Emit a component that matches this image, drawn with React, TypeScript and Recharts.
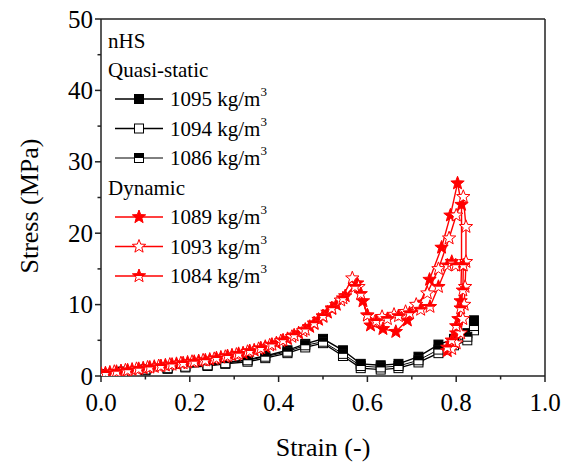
import React from 'react';
import { LineChart, Line, XAxis, YAxis, ReferenceLine } from 'recharts';

const FONT = "'Liberation Serif', 'DejaVu Serif', serif";

// quasi-static (black) curves
const qsStrain = [0.0, 0.05, 0.1, 0.15, 0.19, 0.24, 0.28, 0.33, 0.37, 0.42, 0.46, 0.5, 0.545, 0.585, 0.63, 0.67, 0.715, 0.76, 0.795, 0.825, 0.84];
const qs1095 = [0.2, 0.6, 0.9, 1.2, 1.4, 1.6, 1.9, 2.3, 2.8, 3.6, 4.5, 5.2, 3.6, 1.7, 1.5, 1.7, 2.7, 4.4, 5.2, 6.0, 7.8];
const qs1094 = [0.2, 0.5, 0.8, 1.0, 1.2, 1.4, 1.7, 2.0, 2.5, 3.2, 4.0, 4.6, 2.8, 1.1, 0.9, 1.1, 1.9, 3.2, 4.3, 5.0, 6.4];
const qs1086 = [0.2, 0.6, 0.9, 1.1, 1.3, 1.5, 1.8, 2.2, 2.7, 3.4, 4.3, 4.8, 3.1, 1.4, 1.2, 1.4, 2.2, 3.7, 4.7, 5.5, 7.0];

// dynamic (red) curves
const dyStrain1089 = [0, 0.02, 0.045, 0.07, 0.095, 0.12, 0.145, 0.17, 0.195, 0.22, 0.245, 0.27, 0.295, 0.32, 0.345, 0.37, 0.395, 0.42, 0.445, 0.47, 0.49, 0.51, 0.53, 0.55, 0.577, 0.59, 0.607, 0.635, 0.664, 0.69, 0.716, 0.74, 0.767, 0.787, 0.803, 0.812, 0.812, 0.81, 0.805, 0.8, 0.79, 0.78];
const dy1089 = [0.3, 0.5, 0.7, 0.9, 1.1, 1.3, 1.5, 1.7, 1.9, 2.1, 2.3, 2.6, 2.9, 3.2, 3.6, 4.1, 4.6, 5.2, 6.0, 6.9, 7.9, 8.9, 10.0, 11.2, 13.0, 10.5, 7.1, 6.6, 6.2, 7.8, 9.7, 13.5, 18.0, 22.5, 27.0, 24.0, 15.5, 10.5, 8.0, 6.0, 4.5, 3.5];
const dyStrain1093 = [0, 0.03, 0.055, 0.08, 0.105, 0.13, 0.155, 0.18, 0.205, 0.23, 0.255, 0.28, 0.305, 0.33, 0.355, 0.38, 0.405, 0.43, 0.455, 0.48, 0.5, 0.52, 0.54, 0.566, 0.58, 0.6, 0.617, 0.633, 0.66, 0.686, 0.71, 0.735, 0.76, 0.784, 0.8, 0.816, 0.822, 0.822, 0.82, 0.818, 0.815, 0.81, 0.8, 0.79];
const dy1093 = [0.3, 0.6, 0.8, 1.0, 1.2, 1.4, 1.6, 1.8, 2.0, 2.2, 2.4, 2.7, 3.0, 3.4, 3.8, 4.3, 4.9, 5.5, 6.3, 7.3, 8.3, 9.4, 10.6, 13.7, 12.5, 8.5, 7.6, 8.3, 8.6, 9.0, 10.0, 11.6, 15.0, 19.3, 22.5, 25.1, 20.9, 16.0, 12.5, 10.0, 8.0, 6.0, 4.6, 3.8];
const dyStrain1084 = [0, 0.01, 0.035, 0.06, 0.085, 0.11, 0.135, 0.16, 0.185, 0.21, 0.235, 0.26, 0.285, 0.31, 0.335, 0.36, 0.385, 0.41, 0.435, 0.46, 0.48, 0.5, 0.52, 0.545, 0.572, 0.585, 0.6, 0.62, 0.645, 0.67, 0.695, 0.72, 0.741, 0.76, 0.78, 0.79, 0.799, 0.816, 0.815, 0.81, 0.8, 0.79, 0.78];
const dy1084 = [0.3, 0.4, 0.6, 0.8, 1.0, 1.2, 1.4, 1.6, 1.8, 2.0, 2.2, 2.5, 2.8, 3.1, 3.5, 3.9, 4.4, 5.0, 5.7, 6.5, 7.4, 8.4, 9.5, 10.9, 12.5, 11.5, 8.5, 7.7, 8.0, 8.4, 8.8, 9.3, 9.7, 12.5, 15.5, 16.0, 15.5, 15.5, 12.0, 9.5, 7.0, 5.0, 4.0];

const xTicks = [0, 0.1, 0.2, 0.3, 0.4, 0.5, 0.6, 0.7, 0.8, 0.9, 1.0];
const yTicks = [0, 5, 10, 15, 20, 25, 30, 35, 40, 45, 50];

const toPts = (xs: number[], ys: number[]) => xs.map((x, i) => ({ x, y: ys[i] }));

type Kind = 'sqFilled' | 'sqOpen' | 'sqHalf' | 'starFilled' | 'starOpen' | 'starHalf';

const starPoints = (cx: number, cy: number, r: number) => {
  const pts: string[] = [];
  for (let i = 0; i < 10; i++) {
    const rad = i % 2 === 0 ? r : r * 0.42;
    const a = -Math.PI / 2 + (i * Math.PI) / 5;
    pts.push(`${cx + rad * Math.cos(a)},${cy + rad * Math.sin(a)}`);
  }
  return pts.join(' ');
};

const Marker = ({ kind, cx, cy }: { kind: Kind; cx: number; cy: number }) => {
  const s = 4.5;
  if (kind.startsWith('sq')) {
    return (
      <g>
        <rect x={cx - s} y={cy - s} width={2 * s} height={2 * s} fill={kind === 'sqFilled' ? '#000' : '#fff'} stroke="#000" strokeWidth={1} />
        {kind === 'sqHalf' && <rect x={cx - s} y={cy - s} width={2 * s} height={s} fill="#000" />}
      </g>
    );
  }
  const r = 7;
  const pts = starPoints(cx, cy, r);
  if (kind === 'starHalf') {
    return (
      <g>
        <defs>
          <clipPath id="topHalfClip" clipPathUnits="objectBoundingBox">
            <rect x={0} y={0} width={1} height={0.55} />
          </clipPath>
        </defs>
        <polygon points={pts} fill="#fff" stroke="#f00" strokeWidth={1} />
        <polygon points={pts} fill="#f00" clipPath="url(#topHalfClip)" />
      </g>
    );
  }
  return <polygon points={pts} fill={kind === 'starFilled' ? '#f00' : '#fff'} stroke="#f00" strokeWidth={1} />;
};

const makeDot = (kind: Kind) => (props: any) => {
  const { cx, cy, index } = props;
  if (cx == null || cy == null) return <g key={index} />;
  return <Marker key={index} kind={kind} cx={cx} cy={cy} />;
};

const XTick = (props: any) => {
  const { x, y, payload } = props;
  const major = Math.round(payload.value * 10) % 2 === 0;
  return (
    <g>
      <line x1={x} x2={x} y1={y} y2={y + (major ? 6 : 3.5)} stroke="#222" strokeWidth={1.5} />
      {major && (
        <text x={x} y={y + 35} textAnchor="middle" fontSize={25} style={{ fontFamily: FONT }} fill="#000">
          {payload.value.toFixed(1)}
        </text>
      )}
    </g>
  );
};

const YTick = (props: any) => {
  const { x, y, payload } = props;
  const major = payload.value % 10 === 0;
  return (
    <g>
      <line x1={x - (major ? 6 : 3.5)} x2={x} y1={y} y2={y} stroke="#222" strokeWidth={1.5} />
      {major && (
        <text x={x - 8} y={y + 8.5} textAnchor="end" fontSize={25} style={{ fontFamily: FONT }} fill="#000">
          {payload.value}
        </text>
      )}
    </g>
  );
};

const series = [
  { name: '1095', data: toPts(qsStrain, qs1095), color: '#000', kind: 'sqFilled' as Kind, width: 1.4 },
  { name: '1094', data: toPts(qsStrain, qs1094), color: '#000', kind: 'sqOpen' as Kind, width: 1.4 },
  { name: '1086', data: toPts(qsStrain, qs1086), color: '#000', kind: 'sqHalf' as Kind, width: 1 },
  { name: '1089', data: toPts(dyStrain1089, dy1089), color: '#f00', kind: 'starFilled' as Kind, width: 1.4 },
  { name: '1093', data: toPts(dyStrain1093, dy1093), color: '#f00', kind: 'starOpen' as Kind, width: 1.4 },
  { name: '1084', data: toPts(dyStrain1084, dy1084), color: '#f00', kind: 'starHalf' as Kind, width: 1.4 },
];

const legendRows: { text: string; y: number; s?: (typeof series)[number] }[] = [
  { text: 'nHS', y: 41 },
  { text: 'Quasi-static', y: 70 },
  { text: '1095 kg/m', y: 99, s: series[0] },
  { text: '1094 kg/m', y: 128.5, s: series[1] },
  { text: '1086 kg/m', y: 158, s: series[2] },
  { text: 'Dynamic', y: 187.5 },
  { text: '1089 kg/m', y: 217, s: series[3] },
  { text: '1093 kg/m', y: 246.5, s: series[4] },
  { text: '1084 kg/m', y: 276, s: series[5] },
];

export default function App() {
  return (
    <div style={{ position: 'absolute', left: 0, top: 0, width: 574, height: 466, background: '#fff' }}>
      <LineChart width={574} height={466} margin={{ top: 19, right: 29, bottom: 30, left: 0 }}>
        <XAxis
          dataKey="x"
          type="number"
          domain={[0, 1]}
          ticks={xTicks}
          allowDataOverflow
          height={60}
          tickSize={0}
          tickMargin={0}
          tickLine={false}
          tick={<XTick />}
          axisLine={{ stroke: '#222', strokeWidth: 1.5 }}
        />
        <YAxis
          dataKey="y"
          type="number"
          domain={[0, 50]}
          ticks={yTicks}
          allowDataOverflow
          width={101}
          tickSize={0}
          tickMargin={0}
          tickLine={false}
          tick={<YTick />}
          axisLine={{ stroke: '#222', strokeWidth: 1.5 }}
        />
        <ReferenceLine y={50} stroke="#222" strokeWidth={1.5} />
        <ReferenceLine x={1} stroke="#222" strokeWidth={1.5} />
        {series.map((s) => (
          <Line
            key={s.name}
            data={s.data}
            dataKey="y"
            type="linear"
            stroke={s.color}
            strokeWidth={s.width}
            dot={makeDot(s.kind)}
            activeDot={false}
            isAnimationActive={false}
          />
        ))}
      </LineChart>
      <svg width={574} height={466} style={{ position: 'absolute', left: 0, top: 0, pointerEvents: 'none', fontFamily: FONT }}>
        <text x={323} y={456} textAnchor="middle" fontSize={26} fill="#000">
          Strain (-)
        </text>
        <text x={38} y={206} textAnchor="middle" fontSize={26} fill="#000" transform="rotate(-90 38 206)">
          Stress (MPa)
        </text>
        {legendRows.map((r) =>
          r.s ? (
            <g key={r.text + r.y}>
              <line x1={115} x2={163} y1={r.y} y2={r.y} stroke={r.s.color} strokeWidth={r.s.width} />
              <Marker kind={r.s.kind} cx={139} cy={r.y} />
              <text x={170} y={r.y + 7} fontSize={21} fill="#000">
                {r.text}
                <tspan dy={-10} fontSize={13}>3</tspan>
              </text>
            </g>
          ) : (
            <text key={r.text} x={108} y={r.y + 7} fontSize={21} fill="#000">
              {r.text}
            </text>
          )
        )}
      </svg>
    </div>
  );
}
